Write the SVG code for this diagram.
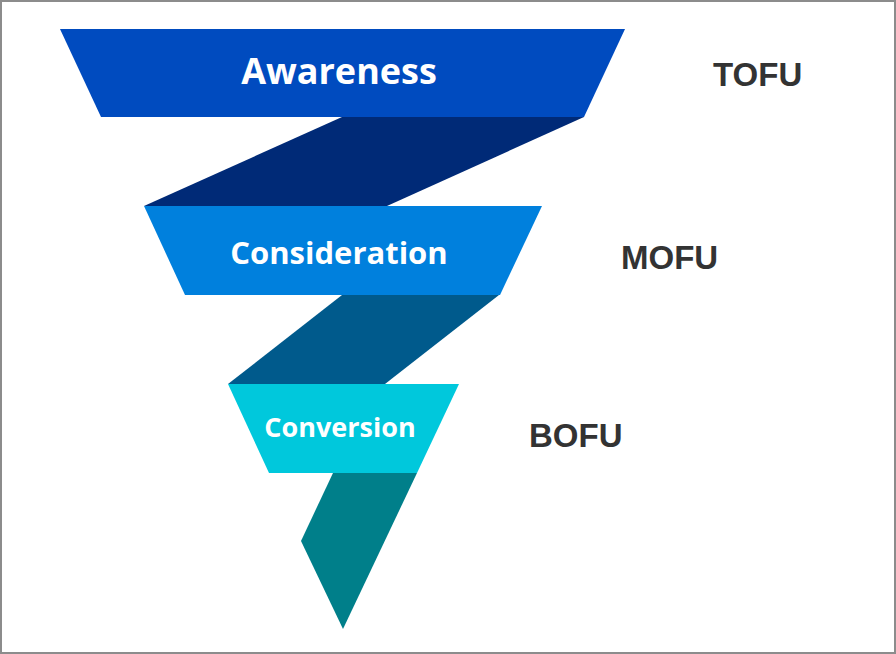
<svg xmlns="http://www.w3.org/2000/svg" width="896" height="654" viewBox="0 0 896 654">
<style>
.lbl{font-family:"Open Sans","Noto Sans","DejaVu Sans",sans-serif;font-weight:700;fill:#ffffff;text-anchor:middle}
.side{font-family:"Liberation Sans",Arial,sans-serif;font-weight:700;fill:#333333}
</style>
<rect x="0" y="0" width="896" height="654" fill="#ffffff"/>
<rect x="1" y="1" width="894" height="652" fill="none" stroke="#8c8c8c" stroke-width="2"/>
<g id="connectors">
<polygon points="342,117 584,117 387,206 144,206" fill="#002A77"/>
<polygon points="342,295 499,295 385,384 228,384" fill="#005A8C"/>
<polygon points="333,473 417,473 343,629 301,541" fill="#007F8A"/>
</g>
<g id="awareness">
<polygon points="60,29 625,29 584,117 101,117" fill="#004BBF"/>
<text class="lbl" x="339" y="84" font-size="36">Awareness</text>
</g>
<g id="consideration">
<polygon points="144,206 542,206 500,295 185,295" fill="#0080DD"/>
<text class="lbl" x="339" y="264" font-size="31">Consideration</text>
</g>
<g id="conversion">
<polygon points="228,384 459,384 417,473 269,473" fill="#00C8DC"/>
<text class="lbl" x="340" y="437" font-size="27">Conversion</text>
</g>
<g id="tofu"><text class="side" x="713" y="86" font-size="33">TOFU</text></g>
<g id="mofu"><text class="side" x="621" y="269" font-size="33">MOFU</text></g>
<g id="bofu"><text class="side" x="529" y="447" font-size="33">BOFU</text></g>
</svg>
